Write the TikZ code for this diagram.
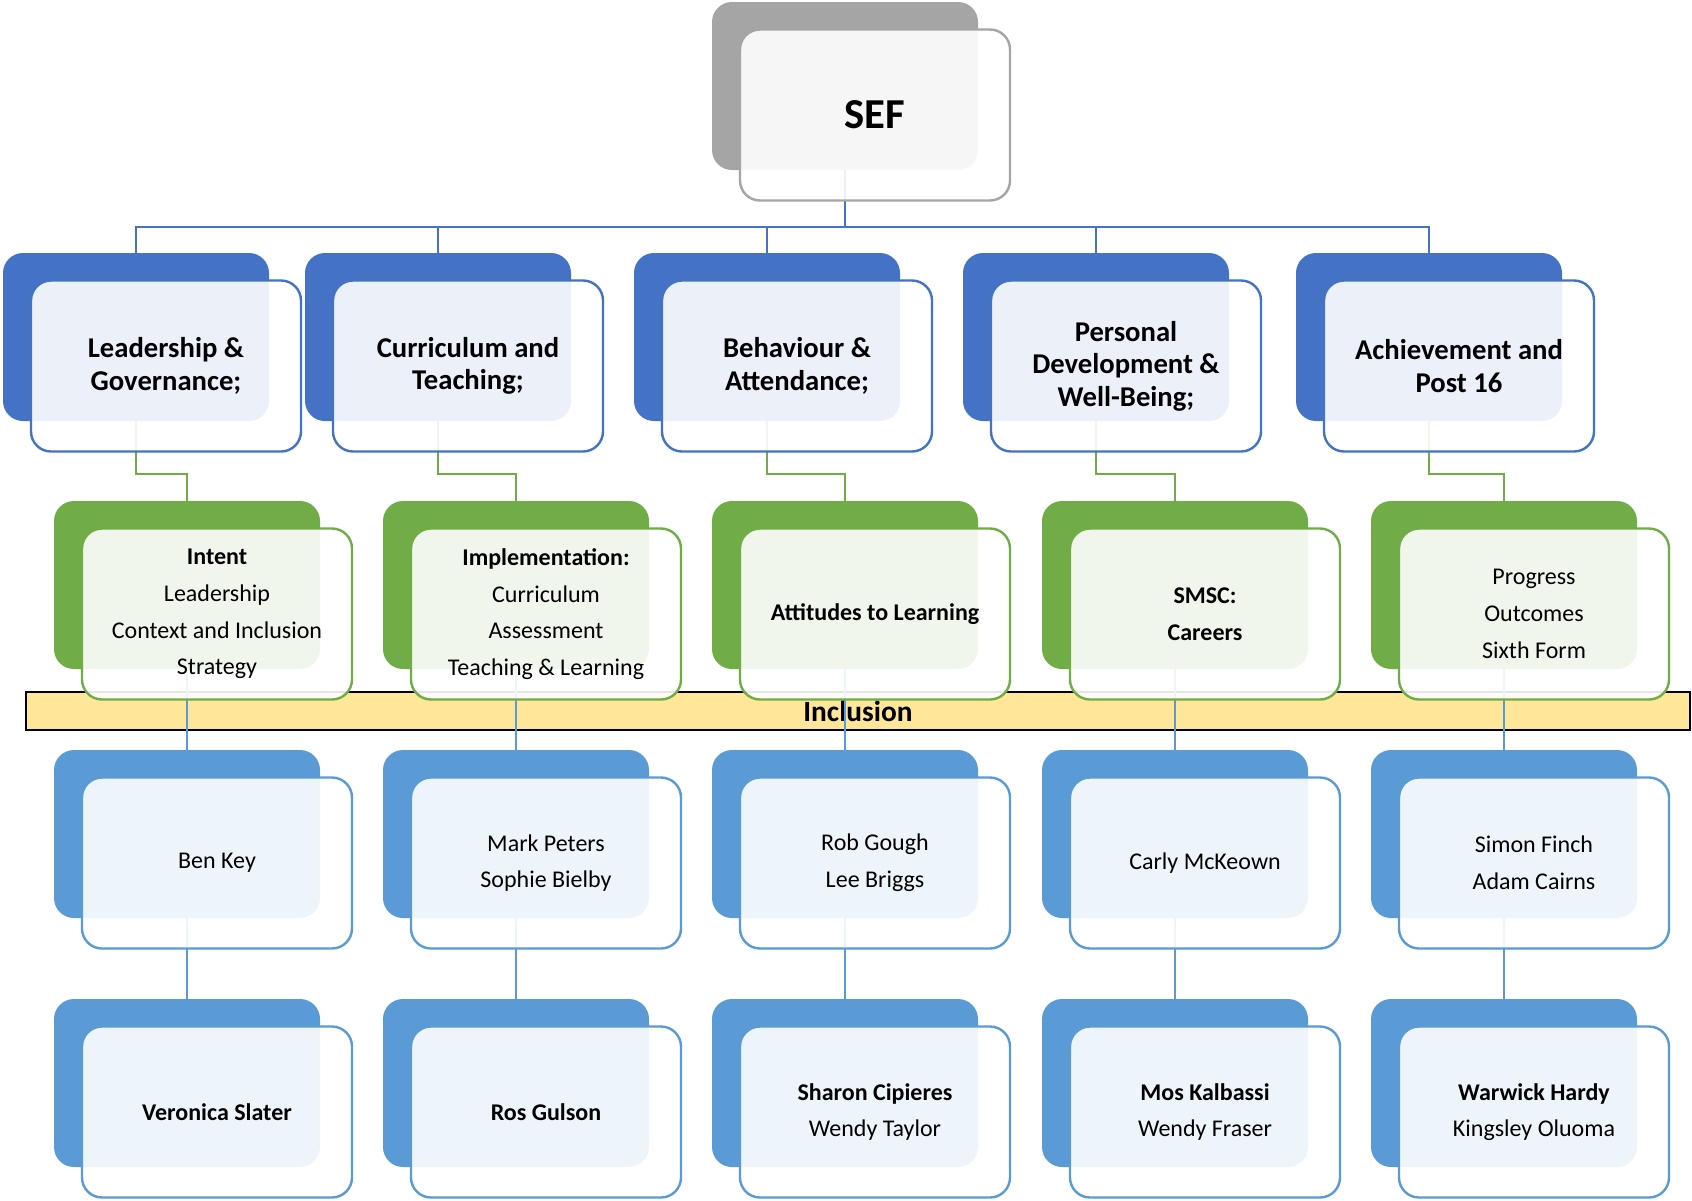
\documentclass[tikz,border=0pt]{standalone}
\usepackage{fontspec}
\setmainfont{Carlito}
\definecolor{cgrey}{HTML}{A5A5A5}
\definecolor{cblue}{HTML}{4472C4}
\definecolor{cgreen}{HTML}{70AD47}
\definecolor{clblue}{HTML}{5B9BD5}
\definecolor{cyell}{HTML}{FFE699}
\pgfdeclarelayer{bottom}
\pgfdeclarelayer{mid}
\pgfsetlayers{bottom,mid,main}
\newcommand\fSEF{\fontsize{32}{36}\selectfont\bfseries}
\newcommand\fTwo{\fontsize{21.5}{24.4}\selectfont\bfseries}
\newcommand\fRest{\fontsize{18}{27.5}\selectfont}
\tikzset{
  backbox/.style={rounded corners=15pt, minimum width=199.5pt, minimum height=126pt,
    inner sep=0pt, outer sep=0pt, fill=#1},
  frontbox/.style={rounded corners=15pt, minimum width=202.5pt, minimum height=128.25pt,
    inner sep=0pt, outer sep=0pt, fill=white, fill opacity=0.9, text opacity=1,
    draw=#1, line width=1.8pt, align=center},
  conn/.style={draw=#1, line width=1.6pt},
}
\newcommand\orgbox[6]{%
  \node[backbox=#4] (#1b) at ({#2+133},{#3+84}) {};
  \node[frontbox=#4, font=#5] (#1) at ({#2+163},{#3+113}) {#6};
}
\begin{document}
\begin{tikzpicture}[x=0.75pt,y=-0.75pt]
\useasboundingbox (0,0) rectangle (1692,1200);
\begin{pgfonlayer}{bottom}
  \fill[white] (0,0) rectangle (1692,1200);
  \node[fill=cyell, draw=black, line width=1.5pt, minimum width=1248pt, minimum height=28.5pt,
    inner sep=0pt, font=\fontsize{22}{26}\selectfont\bfseries] (incl) at (858,711) {Inclusion};
\end{pgfonlayer}

% Level 1
\orgbox{sef}{712}{2}{cgrey}{\fSEF}{SEF}
% Level 2
\orgbox{n21}{3}{253}{cblue}{\fTwo}{Leadership \&\\Governance;}
\orgbox{n22}{305}{253}{cblue}{\fTwo}{Curriculum and\\Teaching;}
\orgbox{n23}{634}{253}{cblue}{\fTwo}{Behaviour \&\\Attendance;}
\orgbox{n24}{963}{253}{cblue}{\fTwo}{Personal\\Development \&\\Well-Being;}
\orgbox{n25}{1296}{253}{cblue}{\fTwo}{Achievement and\\Post 16}
% Level 3
\orgbox{n31}{54}{501}{cgreen}{\fRest}{\textbf{Intent}\\Leadership\\Context and Inclusion\\Strategy}
\orgbox{n32}{383}{501}{cgreen}{\fRest}{\textbf{Implementation:}\\Curriculum\\Assessment\\Teaching \& Learning}
\orgbox{n33}{712}{501}{cgreen}{\fRest}{\textbf{Attitudes to Learning}}
\orgbox{n34}{1042}{501}{cgreen}{\fRest}{\textbf{SMSC:}\\\textbf{Careers}}
\orgbox{n35}{1371}{501}{cgreen}{\fRest}{Progress\\Outcomes\\Sixth Form}
% Level 4
\orgbox{n41}{54}{750}{clblue}{\fRest}{Ben Key}
\orgbox{n42}{383}{750}{clblue}{\fRest}{Mark Peters\\Sophie Bielby}
\orgbox{n43}{712}{750}{clblue}{\fRest}{Rob Gough\\Lee Briggs}
\orgbox{n44}{1042}{750}{clblue}{\fRest}{Carly McKeown}
\orgbox{n45}{1371}{750}{clblue}{\fRest}{Simon Finch\\Adam Cairns}
% Level 5
\orgbox{n51}{54}{999}{clblue}{\fRest}{\textbf{Veronica Slater}}
\orgbox{n52}{383}{999}{clblue}{\fRest}{\textbf{Ros Gulson}}
\orgbox{n53}{712}{999}{clblue}{\fRest}{\textbf{Sharon Cipieres}\\Wendy Taylor}
\orgbox{n54}{1042}{999}{clblue}{\fRest}{\textbf{Mos Kalbassi}\\Wendy Fraser}
\orgbox{n55}{1371}{999}{clblue}{\fRest}{\textbf{Warwick Hardy}\\Kingsley Oluoma}

\begin{pgfonlayer}{mid}
  \coordinate (bus) at (845,227);
  \draw[conn=cblue] (sefb.south) -- (bus);
  \foreach \i in {1,...,5}{
    \draw[conn=cblue] (bus) -| (n2\i b.north);
    \draw[conn=cgreen] (n2\i b.south) -- ++(0,53) -| (n3\i b.north);
    \draw[conn=clblue] (n3\i b.south) -- (n4\i b.north);
    \draw[conn=clblue] (n4\i b.south) -- (n5\i b.north);
  }
\end{pgfonlayer}
\end{tikzpicture}
\end{document}
